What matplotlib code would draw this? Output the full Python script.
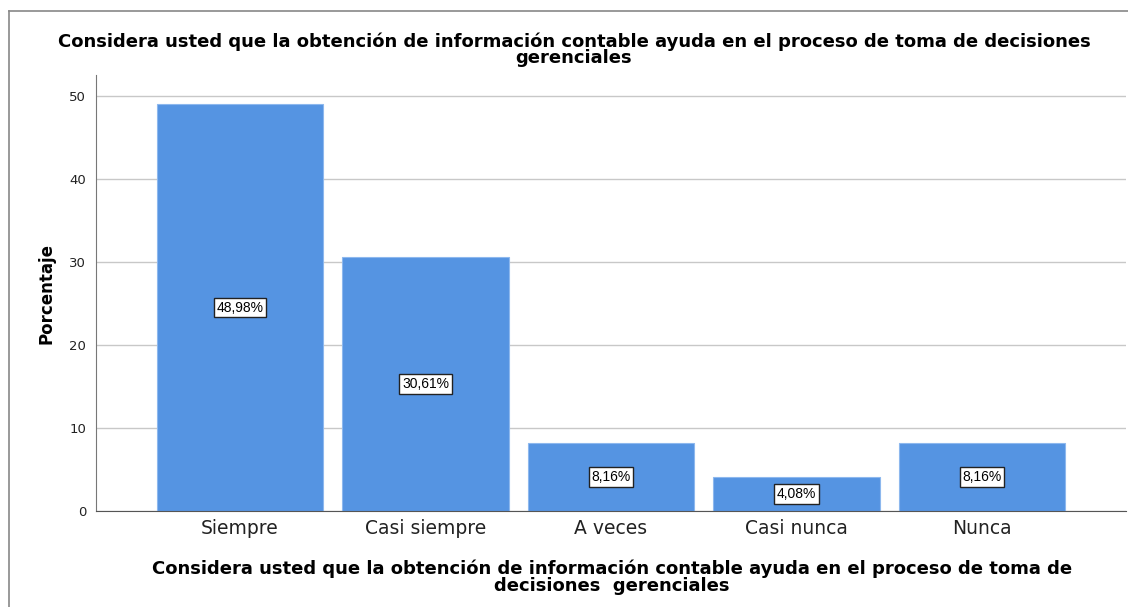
import matplotlib.pyplot as plt
from matplotlib.lines import Line2D

plt.rcParams['font.family'] = ['DejaVu Sans']

categorias = ['Siempre', 'Casi siempre', 'A veces', 'Casi nunca', 'Nunca']
porcentajes = [48.98, 30.61, 8.16, 4.08, 8.16]
etiquetas = ['48,98%', '30,61%', '8,16%', '4,08%', '8,16%']
titulo = ('Considera usted que la obtención de información contable ayuda en el proceso de toma de decisiones\n'
          'gerenciales')
titulo_x = ('Considera usted que la obtención de información contable ayuda en el proceso de toma de\n'
            'decisiones  gerenciales')

fig = plt.figure(figsize=(11.28, 6.07), dpi=100)
ax = fig.add_axes([96 / 1128, 1 - 511 / 607, 1030 / 1128, 436 / 607])

x = range(len(categorias))
ax.bar(x, porcentajes, width=0.895, color='#5594E2', edgecolor='#8DB8EE', linewidth=0.8, zorder=2)
for i, v in enumerate(porcentajes):
    ax.text(i, v / 2, etiquetas[i], ha='center', va='center', fontsize=10, color='black', zorder=3,
            family='Liberation Sans',
            bbox=dict(boxstyle='square,pad=0.2', facecolor='white', edgecolor='#222222', linewidth=1))

ax.set_xlim(-0.776, 4.776)
ax.set_ylim(0, 52.5)
ax.set_yticks([0, 10, 20, 30, 40, 50])
ax.set_xticks(list(x))
ax.set_xticklabels(categorias, fontsize=13.5, color='#222222')
ax.tick_params(axis='y', length=0, labelsize=9.5, pad=7, colors='#222222')
ax.tick_params(axis='x', length=0, pad=6)
ax.grid(axis='y', color='#C8C8C8', linewidth=1, zorder=0)
ax.set_axisbelow(True)
for s in ['top', 'right']:
    ax.spines[s].set_visible(False)
ax.spines['left'].set_color('#777777')
ax.spines['bottom'].set_color('#555555')

ax.set_ylabel('Porcentaje', fontsize=12, fontweight='bold', labelpad=10)
fig.text(574 / 1128, 1 - 50 / 607, titulo, ha='center', va='center', fontsize=13,
         fontweight='bold', linespacing=0.85)
fig.text(612 / 1128, 1 - 577 / 607, titulo_x, ha='center', va='center', fontsize=13,
         fontweight='bold', linespacing=0.95)

# marco exterior
fig.add_artist(Line2D([9 / 1128, 9 / 1128], [0, 1 - 11 / 607], color='#888888', linewidth=1.2))
fig.add_artist(Line2D([9 / 1128, 1], [1 - 11 / 607, 1 - 11 / 607], color='#888888', linewidth=1.2))

fig.savefig('out.png', dpi=100)
